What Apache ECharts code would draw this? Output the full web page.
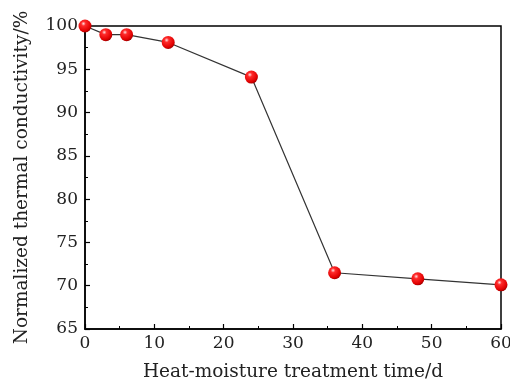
<!DOCTYPE html>
<html><head><meta charset="utf-8">
<script src="https://cdn.jsdelivr.net/npm/echarts@6/dist/echarts.min.js"></script>
<style>html,body{margin:0;padding:0;background:#fff}#c{width:510px;height:383px}</style>
</head><body><div id="c"></div>
<script>
var times = [0, 3, 6, 12, 24, 36, 48, 60];
var conductivity = [100, 99.0, 99.0, 98.1, 94.1, 71.5, 70.8, 70.1];
var xTicks = [0, 10, 20, 30, 40, 50, 60];
var yTicks = [65, 70, 75, 80, 85, 90, 95, 100];
var xName = 'Heat-moisture treatment time/d';
var yName = 'Normalized thermal conductivity/%';

var font = 'DejaVu Serif';
var chart = echarts.init(document.getElementById('c'));
var ball = new echarts.graphic.RadialGradient(0.38, 0.32, 0.7, [
  {offset: 0, color: '#ffe0e0'},
  {offset: 0.25, color: '#ff2a2a'},
  {offset: 0.8, color: '#e00000'},
  {offset: 1, color: '#a00000'}
]);
function axisCommon() {
  return {
    axisLine: {show: true, lineStyle: {color: '#000', width: 1.5}},
    axisTick: {show: true, inside: true, length: 5, lineStyle: {color: '#000', width: 1.2}},
    minorTick: {show: true, splitNumber: 2, length: 3, lineStyle: {color: '#000', width: 1}},
    splitLine: {show: false},
    axisLabel: {color: '#222', fontFamily: font, fontSize: 17}
  };
}
var xa = axisCommon();
Object.assign(xa, {type: 'value', min: xTicks[0], max: xTicks[xTicks.length-1], interval: 10,
  name: xName, nameLocation: 'middle', nameGap: 34,
  nameTextStyle: {fontFamily: font, fontSize: 18.5, color: '#222'}});
xa.axisLabel.margin = 6;
var ya = axisCommon();
Object.assign(ya, {type: 'value', min: yTicks[0], max: yTicks[yTicks.length-1], interval: 5,
  name: yName, nameLocation: 'middle', nameGap: 53, nameRotate: 90,
  nameTextStyle: {fontFamily: font, fontSize: 18.5, color: '#222'}});
ya.axisLabel.margin = 7;

chart.setOption({
  animation: false,
  grid: {left: 85, right: 9, top: 26, bottom: 54, show: true, borderColor: '#000', borderWidth: 1.5,
    containLabel: false, outerBoundsMode: 'none'},
  xAxis: xa,
  yAxis: ya,
  series: [{
    type: 'line',
    data: times.map(function(t, i){ return [t, conductivity[i]]; }),
    clip: false,
    symbol: 'circle',
    symbolSize: 13,
    itemStyle: {color: ball, borderWidth: 0},
    lineStyle: {color: '#333', width: 1.2},
    z: 3
  }]
});
</script></body></html>
